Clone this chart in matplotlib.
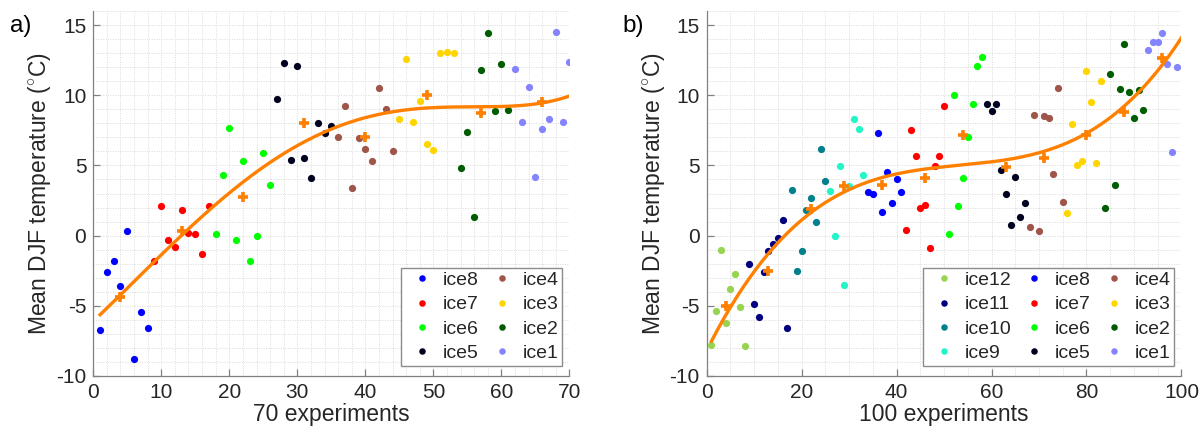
import numpy as np
import matplotlib
matplotlib.use("Agg")
import matplotlib.pyplot as plt
from matplotlib.ticker import MultipleLocator

plt.rcParams['font.family'] = ['Liberation Sans', 'DejaVu Sans']
plt.rcParams['mathtext.fontset'] = 'custom'
plt.rcParams['mathtext.rm'] = 'Liberation Sans'
plt.rcParams['axes.unicode_minus'] = False

# ---------------- panel a data (70 experiments) ----------------
a_ice8_x = [1, 2, 3, 4, 5, 6, 7, 8]
a_ice8_y = [-6.75, -2.6, -1.8, -3.6, 0.35, -8.8, -5.45, -6.6]
a_ice7_x = [9, 10, 11, 12, 13, 14, 15, 16, 17]
a_ice7_y = [-1.8, 2.1, -0.3, -0.8, 1.8, 0.2, 0.1, -1.3, 2.1]
a_ice6_x = [18, 19, 20, 21, 22, 23, 24, 25, 26]
a_ice6_y = [0.15, 4.3, 7.7, -0.3, 5.3, -1.8, 0.0, 5.9, 3.6]
a_ice5_x = [27, 28, 29, 30, 31, 32, 33, 34, 35]
a_ice5_y = [9.7, 12.3, 5.4, 12.1, 5.5, 4.1, 8.0, 7.3, 7.8]
a_ice4_x = [36, 37, 38, 39, 40, 41, 42, 43, 44]
a_ice4_y = [7.05, 9.2, 3.4, 6.95, 6.2, 5.3, 10.5, 9.0, 6.0]
a_ice3_x = [45, 46, 47, 48, 49, 50, 51, 52, 53]
a_ice3_y = [8.3, 12.6, 8.1, 9.6, 6.5, 6.1, 13.0, 13.1, 13.0]
a_ice2_x = [54, 55, 56, 57, 58, 59, 60, 61]
a_ice2_y = [4.8, 7.4, 1.3, 11.8, 14.4, 8.9, 12.2, 8.95]
a_ice1_x = [62, 63, 64, 65, 66, 67, 68, 69, 70]
a_ice1_y = [11.9, 8.1, 10.6, 4.2, 7.6, 8.3, 14.5, 8.1, 12.4]
a_mean_x = [4, 13, 22, 31, 40, 49, 57, 66]
a_mean_y = [-4.4, 0.3, 2.75, 8.0, 7.05, 10.0, 8.7, 9.5]
# orange fitted curve
a_fit_x = [1.1, 4, 13, 22.5, 27.5, 34.8, 42.2, 49.5, 56.9, 64.2, 70]
a_fit_y = [-5.55, -4.3, 0.12, 3.93, 5.64, 7.62, 8.69, 9.05, 9.17, 9.36, 9.93]

# ---------------- panel b data (100 experiments) ----------------
b_ice12_x = [1, 2, 3, 4, 5, 6, 7, 8]
b_ice12_y = [-7.8, -5.4, -1.05, -6.2, -3.8, -2.7, -5.1, -7.85]
b_ice11_x = [9, 10, 11, 12, 13, 14, 15, 16, 17]
b_ice11_y = [-2.0, -4.9, -5.8, -2.6, -1.1, -0.6, -0.15, 1.1, -6.55]
b_ice10_x = [18, 19, 20, 21, 22, 23, 24, 25]
b_ice10_y = [3.25, -2.5, -1.1, 1.85, 2.65, 1.0, 6.15, 3.9]
b_ice9_x = [26, 27, 28, 29, 30, 31, 32, 33]
b_ice9_y = [3.15, 0.0, 4.95, -3.5, 3.5, 8.3, 7.6, 4.3]
b_ice8_x = [34, 35, 36, 37, 38, 39, 40, 41]
b_ice8_y = [3.1, 3.0, 7.3, 1.7, 4.5, 2.3, 4.0, 3.1]
b_ice7_x = [42, 43, 44, 45, 46, 47, 48, 49, 50]
b_ice7_y = [0.4, 7.5, 5.7, 1.95, 2.2, -0.85, 4.95, 5.7, 9.25]
b_ice6_x = [51, 52, 53, 54, 55, 56, 57, 58]
b_ice6_y = [0.1, 10.0, 2.1, 4.1, 7.05, 9.4, 12.1, 12.7]
b_ice5_x = [59, 60, 61, 62, 63, 64, 65, 66, 67]
b_ice5_y = [9.4, 8.85, 9.4, 4.7, 3.0, 0.75, 4.2, 1.35, 2.35]
b_ice4_x = [68, 69, 70, 71, 72, 73, 74, 75]
b_ice4_y = [0.6, 8.6, 0.35, 8.5, 8.35, 4.4, 10.5, 2.4]
b_ice3_x = [76, 77, 78, 79, 80, 81, 82, 83]
b_ice3_y = [1.6, 7.95, 5.05, 5.35, 11.75, 9.5, 5.15, 11.0]
b_ice2_x = [84, 85, 86, 87, 88, 89, 90, 91, 92]
b_ice2_y = [2.0, 11.5, 3.6, 10.45, 13.65, 10.2, 8.35, 10.35, 8.95]
b_ice1_x = [93, 94, 95, 96, 97, 98, 99]
b_ice1_y = [13.2, 13.8, 13.8, 14.4, 12.2, 5.95, 12.0]
b_mean_x = [4, 13, 22, 29, 37, 46, 54, 63, 71, 80, 88, 96]
b_mean_y = [-5.0, -2.5, 1.9, 3.55, 3.6, 4.1, 7.2, 4.9, 5.5, 7.15, 8.8, 12.65]

colors = {
    'ice12': '#96d452', 'ice11': '#000080', 'ice10': '#00808c', 'ice9': '#22f5c8',
    'ice8': '#0000ff', 'ice7': '#ff0000', 'ice6': '#00ff00', 'ice5': '#00001f',
    'ice4': '#a0554a', 'ice3': '#ffd500', 'ice2': '#005c00', 'ice1': '#8484ff',
}
ORANGE = '#ff8000'
GRIDC = '#dadada'
AXC = '#808080'
TXT = '#262626'

panel_a = [('ice8', a_ice8_x, a_ice8_y), ('ice7', a_ice7_x, a_ice7_y),
           ('ice6', a_ice6_x, a_ice6_y), ('ice5', a_ice5_x, a_ice5_y),
           ('ice4', a_ice4_x, a_ice4_y), ('ice3', a_ice3_x, a_ice3_y),
           ('ice2', a_ice2_x, a_ice2_y), ('ice1', a_ice1_x, a_ice1_y)]
panel_b = [('ice12', b_ice12_x, b_ice12_y), ('ice11', b_ice11_x, b_ice11_y),
           ('ice10', b_ice10_x, b_ice10_y), ('ice9', b_ice9_x, b_ice9_y),
           ('ice8', b_ice8_x, b_ice8_y), ('ice7', b_ice7_x, b_ice7_y),
           ('ice6', b_ice6_x, b_ice6_y), ('ice5', b_ice5_x, b_ice5_y),
           ('ice4', b_ice4_x, b_ice4_y), ('ice3', b_ice3_x, b_ice3_y),
           ('ice2', b_ice2_x, b_ice2_y), ('ice1', b_ice1_x, b_ice1_y)]

fig = plt.figure(figsize=(12.02, 4.37), dpi=100)
axa = fig.add_axes([0.0776, 0.1396, 0.3961, 0.8352])
axb = fig.add_axes([0.5879, 0.1396, 0.3950, 0.8352])


def draw(ax, groups, mx, my, fx, fy, deg, n, xmax, xmajor, xminor, ncol):
    for name, xs, ys in groups:
        ax.plot(xs, ys, 'o', ms=5.2, color=colors[name], mec='none', label=name, zorder=3)
    allx = np.concatenate([np.asarray(g[1], float) for g in groups])
    # smooth polynomial curve through the given (read or mean) points
    coef = np.polyfit(np.asarray(fx, float), np.asarray(fy, float), deg)
    xx = np.linspace(allx.min(), xmax, 300)
    ax.plot(xx, np.polyval(coef, xx), '-', color=ORANGE, lw=2.4, zorder=4)
    ax.plot(mx, my, '+', color=ORANGE, ms=7, mew=2.6, zorder=5)
    ax.set_xlim(0, xmax)
    ax.set_ylim(-10, 16)
    ax.xaxis.set_major_locator(MultipleLocator(xmajor))
    ax.xaxis.set_minor_locator(MultipleLocator(xminor))
    ax.yaxis.set_minor_locator(MultipleLocator(1))
    ax.set_yticks([-10, -5, 0, 5, 10, 15])
    ax.grid(True, which='both', color=GRIDC, ls=(0, (1, 1.5)), lw=0.7, zorder=0)
    ax.set_axisbelow(True)
    for s in ['top', 'right']:
        ax.spines[s].set_visible(False)
    for s in ['left', 'bottom']:
        ax.spines[s].set_color(AXC)
        ax.spines[s].set_linewidth(0.9)
    ax.tick_params(which='major', direction='in', length=5, width=0.9, color=AXC,
                   labelsize=15, labelcolor=TXT, pad=5)
    ax.tick_params(which='minor', length=0)
    ax.set_xlabel(f'{n} experiments', fontsize=16.5, color=TXT, labelpad=1)
    ax.set_ylabel('Mean DJF temperature ($^{\\circ}$C)', fontsize=16.5, color=TXT, labelpad=2)
    leg = ax.legend(loc='lower right', ncol=ncol, fontsize=14, frameon=True, fancybox=False,
                    edgecolor='#8c8c8c', framealpha=1, borderpad=0.2, borderaxespad=0,
                    handlelength=1.73, handletextpad=0.2, columnspacing=0.32,
                    labelspacing=0.35, bbox_to_anchor=(0.985, 0.027), markerscale=0.9)
    leg.get_frame().set_linewidth(1.0)
    for t in leg.get_texts():
        t.set_color(TXT)


draw(axa, panel_a, a_mean_x, a_mean_y, a_fit_x, a_fit_y, 5, 70, 70, 10, 2, 2)
draw(axb, panel_b, b_mean_x, b_mean_y, b_mean_x, b_mean_y, 3, 100, 100, 20, 5, 3)

fig.text(0.008, 0.965, 'a)', fontsize=17.5, color='black', va='top', ha='left')
fig.text(0.518, 0.965, 'b)', fontsize=17.5, color='black', va='top', ha='left')

fig.savefig('out.png', dpi=100)
